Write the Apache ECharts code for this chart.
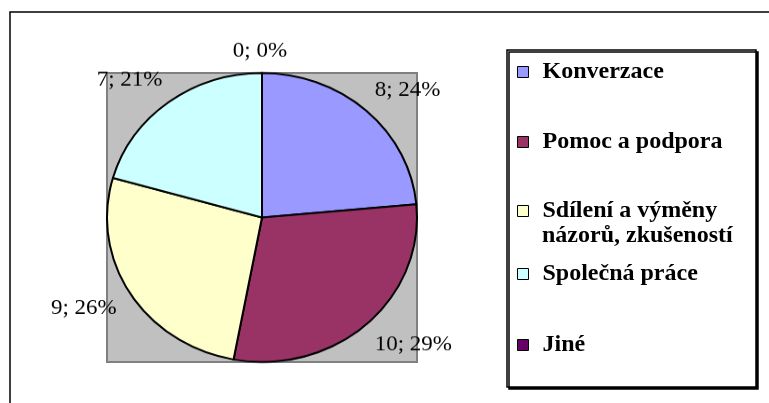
<!DOCTYPE html>
<html>
<head>
<meta charset="utf-8">
<script src="https://cdn.jsdelivr.net/npm/echarts@6/dist/echarts.min.js"></script>
<style>
	html, body { margin: 0; padding: 0; background: #fff; }
	#wrap { position: relative; width: 769px; height: 403px; }
	#main, #pie { position: absolute; left: 0; top: 0; width: 769px; height: 403px; }
	/* Excel kreslí koláč jako elipsu, proto svisle zmáčknout */
	#pie { transform: scaleY(0.932); transform-origin: 0 217.5px; pointer-events: none; }
</style>
</head>
<body>
<div id="wrap">
	<div id="main"></div>
	<div id="pie"></div>
</div>
<script>
	var names = ['Konverzace', 'Pomoc a podpora', 'Sdílení a výměny názorů, zkušeností', 'Společná práce', 'Jiné'];
	var values = [8, 10, 9, 7, 0];
	var colors = ['#9999FF', '#993366', '#FFFFCC', '#CCFFFF', '#660066'];
	// svislé středy položek legendy
	var legendY = [72, 142, 211, 274, 345];

	var pieData = [];
	for (var i = 0; i < names.length; i++) {
		pieData.push({ name: names[i], value: values[i] });
	}

	var legendFont = {
		fontFamily: 'Liberation Serif',
		fontWeight: 'bold',
		fontSize: 24,
		lineHeight: 28,
		color: '#000',
		padding: [0, 0, 0, 9]
	};

	var legends = [];
	for (var j = 0; j < names.length; j++) {
		legends.push({
			data: [names[j]],
			left: 517,
			top: legendY[j] - 14,
			padding: 0,
			icon: 'rect',
			itemWidth: 11,
			itemHeight: 11,
			selectedMode: false,
			itemStyle: { borderColor: '#000', borderWidth: 1 },
			textStyle: legendFont,
			formatter: function(name) {
				// druhý řádek se kreslí zvlášť, aby čtvereček zůstal u prvního
				return name.indexOf('Sdílení') === 0 ? 'Sdílení a výměny' : name;
			}
		});
	}

	//podklad: rámy, šedá plocha, legenda
	var option1 = {
		animation: false,
		color: colors,
		legend: legends,
		graphic: [{
			type: 'rect',
			shape: { x: 10, y: 12, width: 820, height: 450 },
			style: { fill: '#fff', stroke: '#000', lineWidth: 1.5 }
		}, {
			type: 'rect',
			shape: { x: 107, y: 73, width: 310, height: 289 },
			style: { fill: '#C0C0C0', stroke: '#808080', lineWidth: 2 }
		}, {
			type: 'rect',
			shape: { x: 507, y: 50, width: 249, height: 337 },
			style: {
				fill: '#fff', stroke: '#000', lineWidth: 1.5,
				shadowColor: '#000', shadowOffsetX: 2, shadowOffsetY: 2, shadowBlur: 0
			}
		}, {
			type: 'text',
			left: 542,
			top: 238 - 14,
			style: {
				text: 'názorů, zkušeností',
				font: 'bold 24px "Liberation Serif"',
				fill: '#000'
			}
		}],
		series: [{
			type: 'pie',
			silent: true,
			radius: [0, 0],
			center: [262, 217],
			label: { show: false },
			labelLine: { show: false },
			itemStyle: { borderWidth: 0 },
			data: pieData
		}]
	};

	//koláč
	var option2 = {
		animation: false,
		color: colors,
		series: [{
			type: 'pie',
			center: [262, 217.5],
			radius: 155,
			startAngle: 90,
			avoidLabelOverlap: false,
			percentPrecision: 0,
			data: pieData,
			itemStyle: { borderColor: '#000', borderWidth: 2 },
			label: {
				show: true,
				position: 'outside',
				formatter: '{c}; {d}%',
				fontFamily: 'Liberation Serif',
				fontSize: 23,
				color: '#000',
				distanceToLabelLine: -12
			},
			labelLine: { show: false, length: 30, length2: 0 },
			labelLayout: function(params) {
				// popisek nulové výseče je nad vrcholem vystředěný
				if (params.dataIndex === 4) {
					return { align: 'center', dx: -14, dy: 6 };
				}
				return {};
			}
		}]
	};

	echarts.init(document.getElementById('main')).setOption(option1);
	echarts.init(document.getElementById('pie')).setOption(option2);
</script>
</body>
</html>
